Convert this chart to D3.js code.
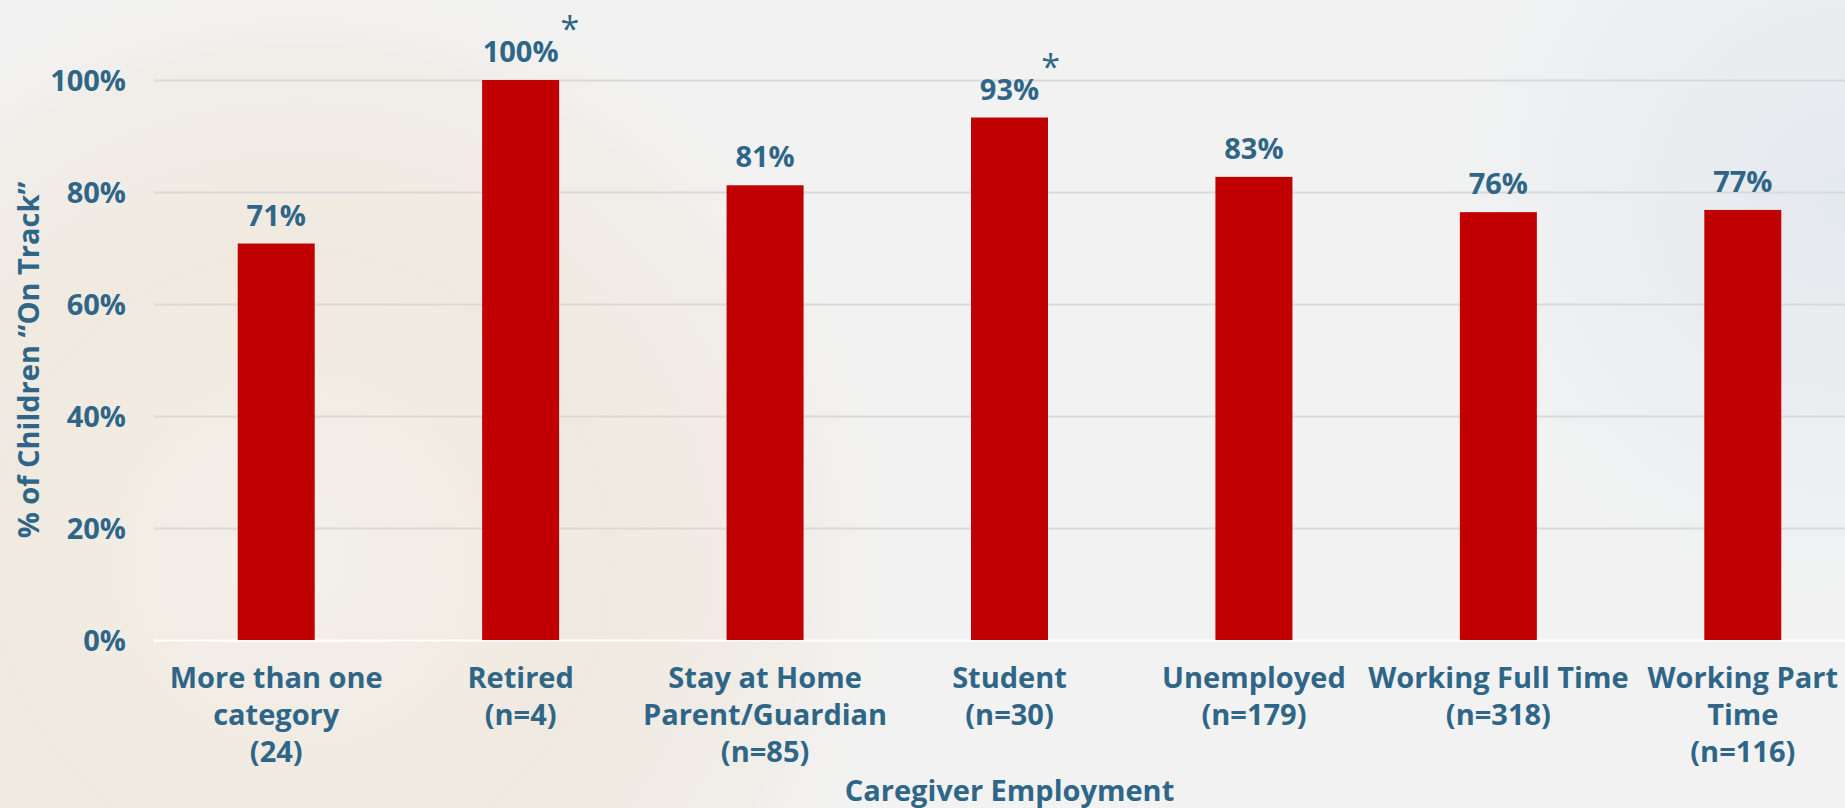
<!DOCTYPE html>
<html>
<head>
<meta charset="utf-8">
<script src="https://cdn.jsdelivr.net/npm/d3@7"></script>
<style>
  html, body { margin: 0; padding: 0; background: #F2F2F2; }
  #chart text { font-family: "Open Sans", Lato, sans-serif; font-weight: 700; fill: #2F6688; }
</style>
</head>
<body>
<div id="chart"></div>
<script>
// Chart data
var categories = [
  ["More than one", "category", "(24)"],
  ["Retired", "(n=4)"],
  ["Stay at Home", "Parent/Guardian", "(n=85)"],
  ["Student", "(n=30)"],
  ["Unemployed", "(n=179)"],
  ["Working Full Time", "(n=318)"],
  ["Working Part", "Time", "(n=116)"]
];
var values = [70.8, 100, 81.2, 93.3, 82.7, 76.4, 76.8];
var valueLabels = ["71%", "100%", "81%", "93%", "83%", "76%", "77%"];
var starred = [false, true, false, true, false, false, false];
var yTicks = [0, 20, 40, 60, 80, 100];

var width = 1845;
var height = 808;
var plotLeft = 154;
var plotRight = 1865;
var plotTop = 80;
var plotBottom = 640;

var svg = d3.select("#chart")
    .append("svg")
    .attr("width", width)
    .attr("height", height);

// Background: plain light gray, warm glow lower left, cool tint on the right
var defs = svg.append("defs");
var warm = defs.append("radialGradient")
    .attr("id", "warm")
    .attr("gradientUnits", "userSpaceOnUse")
    .attr("cx", 300).attr("cy", 560).attr("r", 620);
warm.append("stop").attr("offset", 0).attr("stop-color", "#F3F0EA").attr("stop-opacity", 1);
warm.append("stop").attr("offset", 0.5).attr("stop-color", "#F0E9DF").attr("stop-opacity", 1);
warm.append("stop").attr("offset", 0.8).attr("stop-color", "#F0EBE3").attr("stop-opacity", 0.7);
warm.append("stop").attr("offset", 1).attr("stop-color", "#F2F2F2").attr("stop-opacity", 0);

var cool = defs.append("radialGradient")
    .attr("id", "cool")
    .attr("gradientUnits", "userSpaceOnUse")
    .attr("cx", 1845).attr("cy", 200).attr("r", 420);
cool.append("stop").attr("offset", 0).attr("stop-color", "#E4E9EE").attr("stop-opacity", 1);
cool.append("stop").attr("offset", 1).attr("stop-color", "#E4E9EE").attr("stop-opacity", 0);

svg.append("rect").attr("width", width).attr("height", height).attr("fill", "#F2F2F2");
svg.append("rect").attr("width", width).attr("height", height).attr("fill", "url(#warm)");
svg.append("rect").attr("width", width).attr("height", height).attr("fill", "url(#cool)");

// Scales
var xScale = d3.scaleBand()
    .domain(d3.range(categories.length))
    .range([plotLeft, plotRight])
    .paddingInner(0.685)
    .paddingOuter(0.3425);

var yScale = d3.scaleLinear()
    .domain([0, 100])
    .range([plotBottom, plotTop]);

// Gridlines
var yAxis = d3.axisLeft(yScale)
    .tickValues(yTicks)
    .tickSize(-(plotRight - plotLeft))
    .tickFormat(function(d) { return d + "%"; });

var yG = svg.append("g")
    .attr("transform", `translate(${plotLeft}, 0)`)
    .call(yAxis);
yG.select(".domain").remove();
yG.selectAll(".tick line")
    .attr("stroke", function(d) { return d === 0 ? "#FFFFFF" : "#D9D9D9"; })
    .attr("stroke-width", 2);
yG.selectAll(".tick text")
    .attr("x", -28)
    .attr("dy", "0.35em")
    .style("font-size", "29px")
    .style("text-anchor", "end");

// Bars
svg.selectAll(".bar")
    .data(values)
    .enter()
    .append("rect")
    .attr("class", "bar")
    .attr("x", function(d, i) { return xScale(i); })
    .attr("y", function(d) { return yScale(d); })
    .attr("width", xScale.bandwidth())
    .attr("height", function(d) { return plotBottom - yScale(d); })
    .attr("fill", "#C00000");

// Value labels
var labels = svg.selectAll(".valueLabel")
    .data(values)
    .enter()
    .append("text")
    .attr("class", "valueLabel")
    .attr("x", function(d, i) { return xScale(i) + xScale.bandwidth() / 2; })
    .attr("y", function(d) { return yScale(d) - 18; })
    .attr("text-anchor", "middle")
    .style("font-size", "29px")
    .text(function(d, i) { return valueLabels[i]; });

// Asterisks next to the small-sample labels
labels.each(function(d, i) {
    if (!starred[i]) return;
    var box = this.getBBox();
    svg.append("text")
        .attr("x", box.x + box.width + 2)
        .attr("y", yScale(d) - 18 - 21)
        .style("font-size", "34px")
        .style("font-weight", "400")
        .text("*");
});

// Category labels
var catG = svg.selectAll(".cat")
    .data(categories)
    .enter()
    .append("text")
    .attr("class", "cat")
    .attr("text-anchor", "middle")
    .style("font-size", "29px")
    .attr("transform", function(d, i) {
        return `translate(${xScale(i) + xScale.bandwidth() / 2}, 688)`;
    });

catG.selectAll("tspan")
    .data(function(d) { return d; })
    .enter()
    .append("tspan")
    .attr("x", 0)
    .attr("y", function(d, j) { return j * 37; })
    .text(function(d) { return d; });

// Axis titles
svg.append("text")
    .attr("x", (plotLeft + plotRight) / 2)
    .attr("y", 801)
    .attr("text-anchor", "middle")
    .style("font-size", "29px")
    .text("Caregiver Employment");

svg.append("text")
    .attr("transform", `translate(39, ${(plotTop + plotBottom) / 2}) rotate(-90)`)
    .attr("text-anchor", "middle")
    .style("font-size", "29px")
    .text("% of Children \u201COn Track\u201D");
</script>
</body>
</html>
